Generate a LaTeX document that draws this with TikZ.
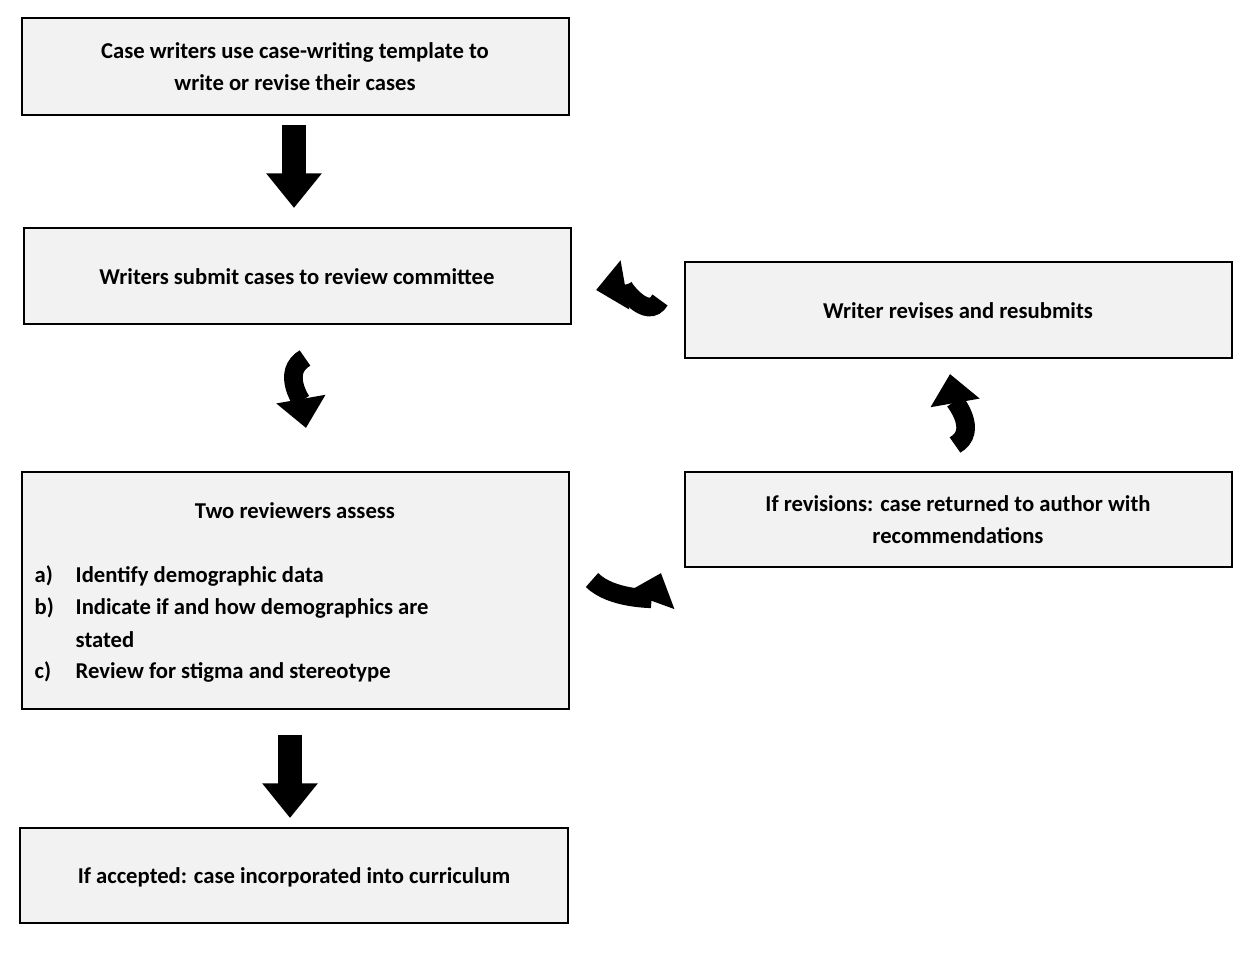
\documentclass[tikz,border=0pt]{standalone}
\usepackage{fontspec}
\setmainfont{Carlito}
\usetikzlibrary{arrows.meta}
\begin{document}
\begin{tikzpicture}[x=0.75pt,y=-0.75pt,
  box/.style={draw,line width=1.8pt,fill=gray!10},
  txt/.style={font=\bfseries\fontsize{17}{24}\selectfont,align=center},
  lt/.style={font=\bfseries\fontsize{17}{24}\selectfont,anchor=west},
  blk/.style={line width=18,-{Triangle[length=26,width=40]}},
  crv/.style={line width=14,-{Triangle[length=22,width=36]}}]
\useasboundingbox (0,0) rectangle (1259,956);
\draw[box] (22,18) rectangle (569,115); \node[txt] (t1) at (295,67) {Case writers use case-writing template to\\write or revise their cases};
\draw[box] (24,228) rectangle (571,324); \node[txt] (t2) at (297,277) {Writers submit cases to review committee};
\draw[box] (685,262) rectangle (1232,358); \node[txt] (t3) at (958,311) {Writer revises and resubmits};
\draw[box] (22,472) rectangle (569,709);
\node[txt] (t4) at (295,511) {Two reviewers assess};
\node[lt] (la) at (30,576) {a)}; \node[lt] (ia) at (71,576) {Identify demographic data};
\node[lt] (lb) at (30,608) {b)}; \node[lt] (ib) at (71,608) {Indicate if and how demographics are};
\node[lt] (ib2) at (71,640) {stated};
\node[lt] (lc) at (30,672) {c)}; \node[lt] (ic) at (71,672) {Review for stigma and stereotype};
\draw[box] (685,472) rectangle (1232,567); \node[txt] (t5) at (958,520) {If revisions: case returned to author with\\recommendations};
\draw[box] (20,828) rectangle (568,923); \node[txt] (t6) at (294,877) {If accepted: case incorporated into curriculum};
\coordinate (a1s) at (294,125); \coordinate (a1e) at (294,208);
\draw[blk] (a1s) -- (a1e);
\coordinate (a2s) at (290,735); \coordinate (a2e) at (290,818);
\draw[blk] (a2s) -- (a2e);
\coordinate (c1s) at (660,300); \coordinate (c1e) at (596,290);
\draw[crv] (c1s) to[out=-120,in=10] (c1e);
\coordinate (c2s) at (305,358); \coordinate (c2e) at (306,428);
\draw[crv] (c2s) to[out=-150,in=100] (c2e);
\coordinate (c3s) at (955,445); \coordinate (c3e) at (950,374);
\draw[crv] (c3s) to[out=30,in=-80] (c3e);
\coordinate (c4s) at (592,580); \coordinate (c4e) at (661,573);
\draw[crv] (c4s) to[out=-45,in=-110] (c4e);
\end{tikzpicture}
\end{document}
